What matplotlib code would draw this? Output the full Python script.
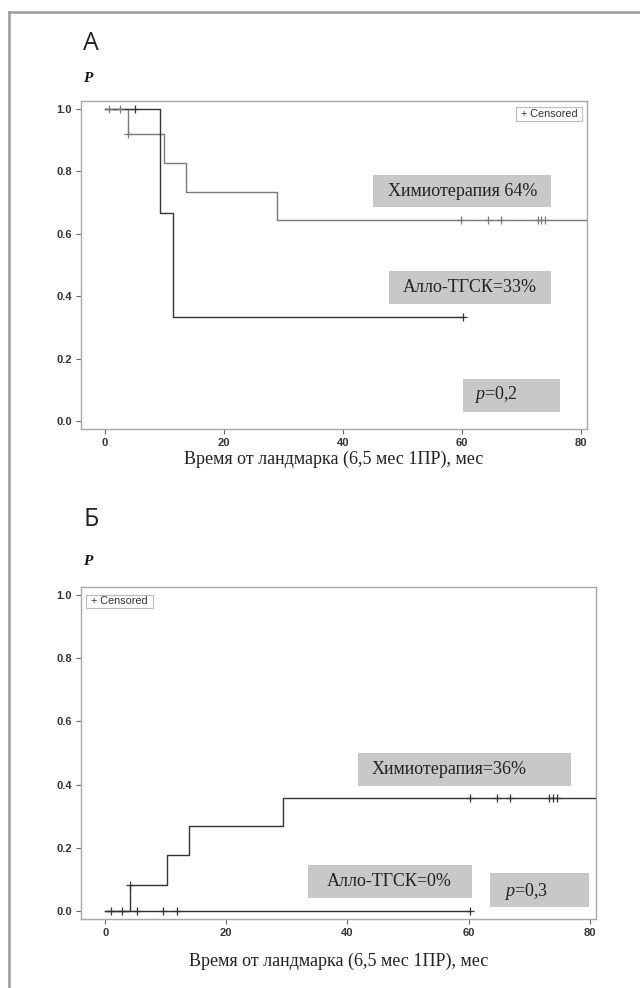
import matplotlib
matplotlib.use('Agg')
import matplotlib.pyplot as plt
import numpy as np
from matplotlib.lines import Line2D
from matplotlib.patches import Rectangle

plt.rcParams['mathtext.fontset'] = 'custom'
plt.rcParams['mathtext.rm'] = 'Liberation Serif'
plt.rcParams['mathtext.it'] = 'Liberation Serif:italic'

# ── Panel A: overall survival from landmark ─────────────────────────────────
a_chemo_t = [0.0, 3.9, 9.9, 13.6, 28.9, 81.0]
a_chemo_p = [1.0, 0.917, 0.825, 0.733, 0.642, 0.642]
a_chemo_cens = [0.7, 2.5, 3.9, 59.9, 64.4, 66.6, 72.8, 73.4, 74.0]

a_allo_t = [0.0, 9.25, 11.4, 60.2]
a_allo_p = [1.0, 0.667, 0.333, 0.333]
a_allo_cens = [5.1, 60.2]

# ── Panel B: cumulative incidence ───────────────────────────────────────────
b_chemo_t = [0.0, 4.1, 10.2, 13.9, 29.4, 81.0]
b_chemo_p = [0.0, 0.083, 0.175, 0.267, 0.358, 0.358]
b_chemo_cens = [1.0, 2.7, 4.1, 60.3, 64.7, 66.9, 73.3, 73.9, 74.6]

b_allo_t = [0.0, 60.3]
b_allo_p = [0.0, 0.0]
b_allo_cens = [5.2, 9.5, 11.8, 60.3]

x_ticks = [0, 20, 40, 60, 80]
y_ticks = [0.0, 0.2, 0.4, 0.6, 0.8, 1.0]
x_label = 'Время от ландмарка (6,5 мес 1ПР), мес'

SERIF = 'Liberation Serif'
SANS = 'Liberation Sans'
BOX = '#c8c8c8'

fig = plt.figure(figsize=(6.4, 9.88), dpi=100)
fig.patch.set_facecolor('white')

# outer frame (left and top edges)
fx = 8.5 / 640
fy = 1 - 12.5 / 988
fig.add_artist(Line2D([fx, fx], [0, fy], color='#9a9a9a', lw=1.8))
fig.add_artist(Line2D([fx, 1], [fy, fy], color='#9a9a9a', lw=1.8))


def step_value(ts, ps, t):
    i = np.searchsorted(ts, t, side='right') - 1
    return ps[max(i, 0)]


def curve(ax, ts, ps, cens, color):
    ax.step(ts, ps, where='post', color=color, lw=1.0, zorder=3)
    cy = [step_value(ts, ps, t) for t in cens]
    ax.plot(cens, cy, ls='none', marker='+', ms=6, mew=0.9, color=color, zorder=4)


def label_box(ax, x0, x1, y0, y1, text, tx=None, ha='center', ty=None):
    ax.add_patch(Rectangle((x0, y0), x1 - x0, y1 - y0, facecolor=BOX,
                           edgecolor='none', zorder=2))
    if tx is None:
        tx = (x0 + x1) / 2
    if ty is None:
        ty = (y0 + y1) / 2
    ax.text(tx, ty, text, ha=ha, va='center', fontsize=13,
            family=SERIF, color='#222222', zorder=5)


def censored_key(ax, x0, x1, y0, y1):
    ax.add_patch(Rectangle((x0, y0), x1 - x0, y1 - y0, facecolor='white',
                           edgecolor='#bbbbbb', lw=0.8, zorder=5))
    ax.text((x0 + x1) / 2, (y0 + y1) / 2, '+ Censored', ha='center', va='center',
            fontsize=7.8, family=SANS, color='#333333', zorder=6)


def style_axes(ax, labelpad):
    ax.set_xlim(-4, 81)
    ax.set_ylim(-0.025, 1.025)
    ax.set_xticks(x_ticks)
    ax.set_yticks(y_ticks)
    ax.set_yticklabels([f'{v:.1f}' for v in y_ticks])
    for s in ax.spines.values():
        s.set_color('#a8a8a8')
        s.set_linewidth(1.0)
    ax.tick_params(length=3.6, width=0.8, color='#666666', labelsize=8,
                   labelcolor='#333333', pad=3)
    for lab in ax.get_xticklabels() + ax.get_yticklabels():
        lab.set_family(SANS)
        lab.set_fontweight('bold')
    ax.set_xlabel(x_label, family=SERIF, fontsize=13, color='#222222',
                  labelpad=labelpad)


# ── Panel A ─────────────────────────────────────────────────────────────────
axA = fig.add_axes([81 / 640, 1 - 429 / 988, 505.5 / 640, 328.3 / 988])
style_axes(axA, 2)
curve(axA, a_chemo_t, a_chemo_p, a_chemo_cens, '#7a7a7a')
curve(axA, a_allo_t, a_allo_p, a_allo_cens, '#333333')
label_box(axA, 45.1, 75.1, 0.684, 0.788, 'Химиотерапия 64%')
label_box(axA, 47.8, 75.1, 0.374, 0.479, 'Алло-ТГСК=33%')
label_box(axA, 60.3, 76.6, 0.030, 0.135, r'$\mathit{p}$=0,2', tx=62.0, ha='left', ty=0.085)
censored_key(axA, 69.2, 80.2, 0.959, 1.004)

fig.text(91 / 640, 1 - 44 / 988, 'А', family='Open Sans', fontsize=18,
         ha='center', va='center', color='#222222')
fig.text(83 / 640, 1 - 78 / 988, 'P', family=SERIF, fontsize=11, style='italic',
         fontweight='bold', ha='left', va='center', color='#111111')

# ── Panel B ─────────────────────────────────────────────────────────────────
axB = fig.add_axes([81 / 640, 1 - 918.6 / 988, 514.8 / 640, 331.3 / 988])
style_axes(axB, 11)
curve(axB, b_allo_t, b_allo_p, b_allo_cens, '#333333')
curve(axB, b_chemo_t, b_chemo_p, b_chemo_cens, '#333333')
label_box(axB, 41.7, 76.9, 0.396, 0.500, 'Химиотерапия=36%', tx=44.0, ha='left')
label_box(axB, 33.4, 60.5, 0.040, 0.145, 'Алло-ТГСК=0%')
label_box(axB, 63.6, 79.9, 0.013, 0.120, r'$\mathit{p}$=0,3', tx=65.8, ha='left', ty=0.060)
censored_key(axB, -3.2, 7.9, 0.959, 1.002)

fig.text(91 / 640, 1 - 520 / 988, 'Б', family='Open Sans', fontsize=18,
         ha='center', va='center', color='#222222')
fig.text(83 / 640, 1 - 561.5 / 988, 'P', family=SERIF, fontsize=11, style='italic',
         fontweight='bold', ha='left', va='center', color='#111111')

fig.savefig('out.png', dpi=100, facecolor='white')
